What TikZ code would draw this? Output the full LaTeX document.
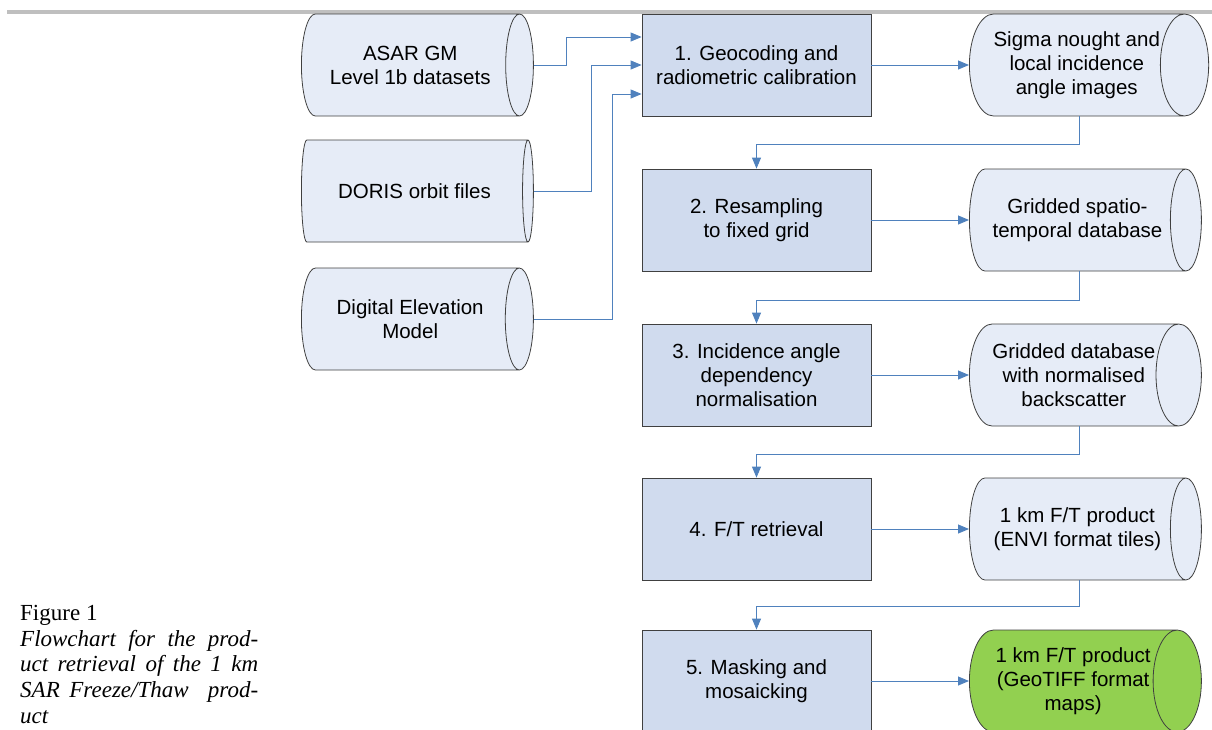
\documentclass[tikz,border=0pt]{standalone}
\usepackage{fontspec}
\setmainfont{Liberation Serif}
\newfontfamily\boxfont{Liberation Sans}
\usepackage{xcolor}
\usepackage{tikz}
\definecolor{flowblue}{HTML}{4F81BD}
\definecolor{procfill}{HTML}{D0DBEE}
\definecolor{datafill}{HTML}{E6ECF7}
\definecolor{prodgreen}{HTML}{92D050}
\definecolor{edgegray}{HTML}{404040}
\definecolor{rulegray}{HTML}{BFBFBF}
\usetikzlibrary{arrows.meta,positioning,shapes.geometric}

\begin{document}
\begin{tikzpicture}[x=1pt,y=-1pt,
  every node/.style={font=\boxfont\fontsize{20.5}{24}\selectfont,align=center},
  procbox/.style={draw=edgegray,line width=0.8pt,fill=procfill,minimum width=229pt,minimum height=102pt,inner sep=0pt},
  datacyl/.style={draw=edgegray,line width=0.8pt,fill=datafill,shape=cylinder,aspect=0.72,minimum height=232pt,minimum width=102pt,inner sep=0pt,anchor=west},
  flow/.style={draw=flowblue,line width=0.9pt,-{Triangle[length=11pt,width=9pt]}}]
\useasboundingbox (0,0) rectangle (1212,729);
\clip (0,0) rectangle (1212,729);
\draw[rulegray,line width=4pt] (7,12) -- (1212,12);
% input data
\node[datacyl] (asar) at (301,65) {ASAR GM\\Level 1b datasets};
\node[datacyl] (doris) at (301,191) {DORIS orbit files};
\node[datacyl] (dem) at (301,319) {Digital Elevation\\Model};
% processing steps
\node[procbox] (geo) at (756.5,65) {1. Geocoding and\\radiometric calibration};
\node[procbox] (resample) at (756.5,220) {2. Resampling\\to fixed grid};
\node[procbox] (norm) at (756.5,375) {3. Incidence angle\\dependency\\normalisation};
\node[procbox] (retr) at (756.5,529) {4. F/T retrieval};
\node[procbox] (mosaic) at (756.5,681) {5. Masking and\\mosaicking};
% intermediate data and products
\node[datacyl] (sigma) at (969,65) {Sigma nought and\\local incidence\\angle images};
\node[datacyl] (grid) at (969,220) {Gridded spatio-\\temporal database};
\node[datacyl] (gridnorm) at (969,375) {Gridded database\\with normalised\\backscatter};
\node[datacyl] (envi) at (969,529) {1 km F/T product\\(ENVI format tiles)};
\node[datacyl,fill=prodgreen] (geotiff) at (969,681) {1 km F/T product\\(GeoTIFF format\\maps)};
% caption
\node[anchor=north west,font=\fontsize{23}{25.75}\selectfont,align=left,inner sep=0pt] (caption) at (20,605)
  {Figure 1\\
   \makebox[238pt][s]{\itshape Flowchart for the prod-}\\
   \makebox[238pt][s]{\itshape uct retrieval of the 1 km}\\
   \makebox[238pt][s]{\itshape SAR Freeze/Thaw\ \ prod-}\\
   {\itshape uct}};
% inputs into step 1
\draw[flow] (asar.east) -- ++(33,0) |- ([yshift=28pt]geo.west);
\draw[flow] (doris.east) -- ++(58,0) |- (geo.west);
\draw[flow] (dem.east) -- ++(79,0) |- ([yshift=-29pt]geo.west);
% steps to data
\draw[flow] (geo.east) -- (sigma.west);
\draw[flow] (resample.east) -- (grid.west);
\draw[flow] (norm.east) -- (gridnorm.west);
\draw[flow] (retr.east) -- (envi.west);
\draw[flow] (mosaic.east) -- (geotiff.west);
% data back to next step
\draw[flow] ([xshift=110pt]sigma.west |- sigma.south) -- ++(0,28) -| (resample.north);
\draw[flow] ([xshift=110pt]grid.west |- grid.south) -- ++(0,29) -| (norm.north);
\draw[flow] ([xshift=110pt]gridnorm.west |- gridnorm.south) -- ++(0,28) -| (retr.north);
\draw[flow] ([xshift=110pt]envi.west |- envi.south) -- ++(0,26) -| (mosaic.north);
\end{tikzpicture}
\end{document}
